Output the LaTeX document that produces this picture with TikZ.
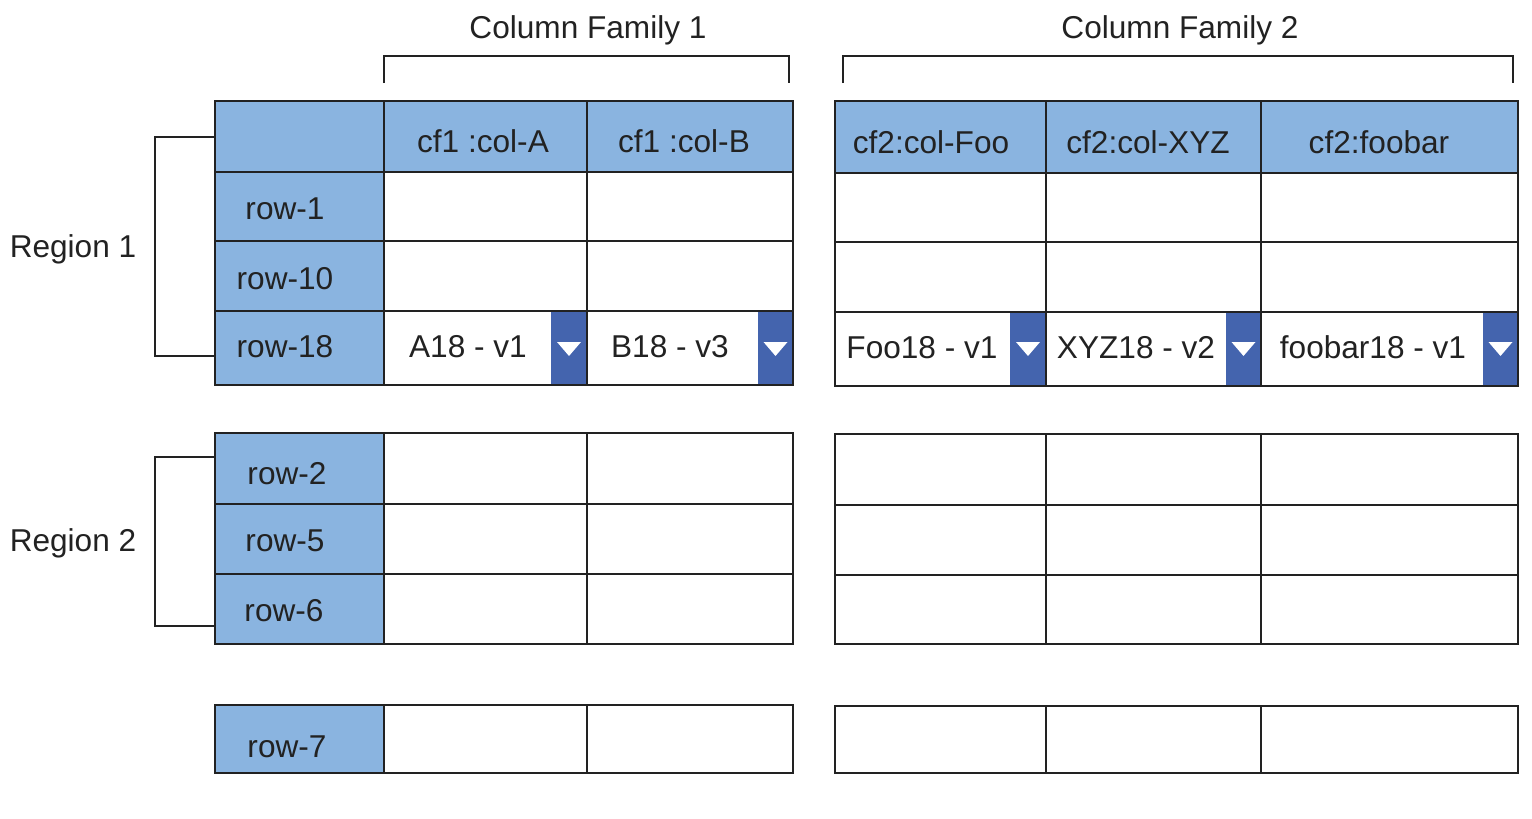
\documentclass[tikz,border=0pt]{standalone}
\usepackage{fontspec}
\setmainfont{Liberation Sans}
\definecolor{hdr}{HTML}{8AB4E0}
\definecolor{dd}{HTML}{4464AE}
\definecolor{ln}{HTML}{222222}
\begin{document}
\begin{tikzpicture}[x=0.5pt,y=-0.5pt,
  txt/.style={font=\fontsize{15.8}{18}\selectfont, text=ln, inner sep=0pt, text height=0.72em, text depth=0pt, anchor=center, yshift=-2pt},
  gridline/.style={draw=ln, line width=1pt},
  brk/.style={draw=ln, line width=1pt},
  ddbox/.style={fill=dd},
  tri/.style={fill=white}]
\useasboundingbox (0,0) rectangle (1532,819);
% blue fills
\fill[hdr] (215,101) rectangle (793,172);
\fill[hdr] (215,172) rectangle (384,385);
\fill[hdr] (215,433) rectangle (384,644);
\fill[hdr] (215,705) rectangle (384,773);
\fill[hdr] (835,101) rectangle (1518,173);
% dropdowns
\foreach \a/\b/\t/\bt in {551/587/311/385, 758/793/311/385, 1010/1046/312/386, 1226/1261/312/386, 1483/1518/312/386}{
  \fill[ddbox] (\a,\t) rectangle (\b,\bt);
  \pgfmathsetmacro{\c}{(\a+\b)/2}
  \fill[tri] (\c-12,342) -- (\c+12,342) -- (\c,356) -- cycle;
}
% left grid
\draw[gridline] (215,101) rectangle (793,385);
\foreach \y in {172,241,311} \draw[gridline] (215,\y) -- (793,\y);
\foreach \x in {384,587} \draw[gridline] (\x,101) -- (\x,385);
\draw[gridline] (215,433) rectangle (793,644);
\foreach \y in {504,574} \draw[gridline] (215,\y) -- (793,\y);
\foreach \x in {384,587} \draw[gridline] (\x,433) -- (\x,644);
\draw[gridline] (215,705) rectangle (793,773);
\foreach \x in {384,587} \draw[gridline] (\x,705) -- (\x,773);
% right grid
\draw[gridline] (835,101) rectangle (1518,386);
\foreach \y in {173,242,312} \draw[gridline] (835,\y) -- (1518,\y);
\foreach \x in {1046,1261} \draw[gridline] (\x,101) -- (\x,386);
\draw[gridline] (835,434) rectangle (1518,644);
\foreach \y in {505,575} \draw[gridline] (835,\y) -- (1518,\y);
\foreach \x in {1046,1261} \draw[gridline] (\x,434) -- (\x,644);
\draw[gridline] (835,706) rectangle (1518,773);
\foreach \x in {1046,1261} \draw[gridline] (\x,706) -- (\x,773);
% column family brackets
\node[txt] (cf1) at (588,27) {Column Family 1};
\node[txt] (cf2) at (1180,27) {Column Family 2};
\coordinate (b1a) at (384,83); \coordinate (b1b) at (789,83);
\coordinate (b2a) at (843,83); \coordinate (b2b) at (1513,83);
\draw[brk] (b1a) -- ++(0,-27) -| (b1b);
\draw[brk] (b2a) -- ++(0,-27) -| (b2b);
% region brackets
\node[txt] (r1) at (73,246) {Region 1};
\node[txt] (r2) at (73,540) {Region 2};
\coordinate (g1a) at (215,137); \coordinate (g1b) at (215,356);
\coordinate (g2a) at (215,457); \coordinate (g2b) at (215,626);
\draw[brk] (g1a) -- (155,137) |- (g1b);
\draw[brk] (g2a) -- (155,457) |- (g2b);
% header texts
\node[txt] (hA) at (483,141) {cf1 :col-A};
\node[txt] (hB) at (684,141) {cf1 :col-B};
\node[txt] (hFoo) at (931,142) {cf2:col-Foo};
\node[txt] (hXYZ) at (1148,142) {cf2:col-XYZ};
\node[txt] (hfb) at (1379,142) {cf2:foobar};
% row keys
\node[txt] (k1) at (285,208) {row-1};
\node[txt] (k10) at (285,278) {row-10};
\node[txt] (k18) at (285,346) {row-18};
\node[txt] (k2) at (287,473) {row-2};
\node[txt] (k5) at (285,540) {row-5};
\node[txt] (k6) at (284,610) {row-6};
\node[txt] (k7) at (287,746) {row-7};
% values
\node[txt] (vA) at (468,346) {A18 - v1};
\node[txt] (vB) at (670,346) {B18 - v3};
\node[txt] (vFoo) at (922,347) {Foo18 - v1};
\node[txt] (vXYZ) at (1136,347) {XYZ18 - v2};
\node[txt] (vfb) at (1373,347) {foobar18 - v1};
\end{tikzpicture}
\end{document}
